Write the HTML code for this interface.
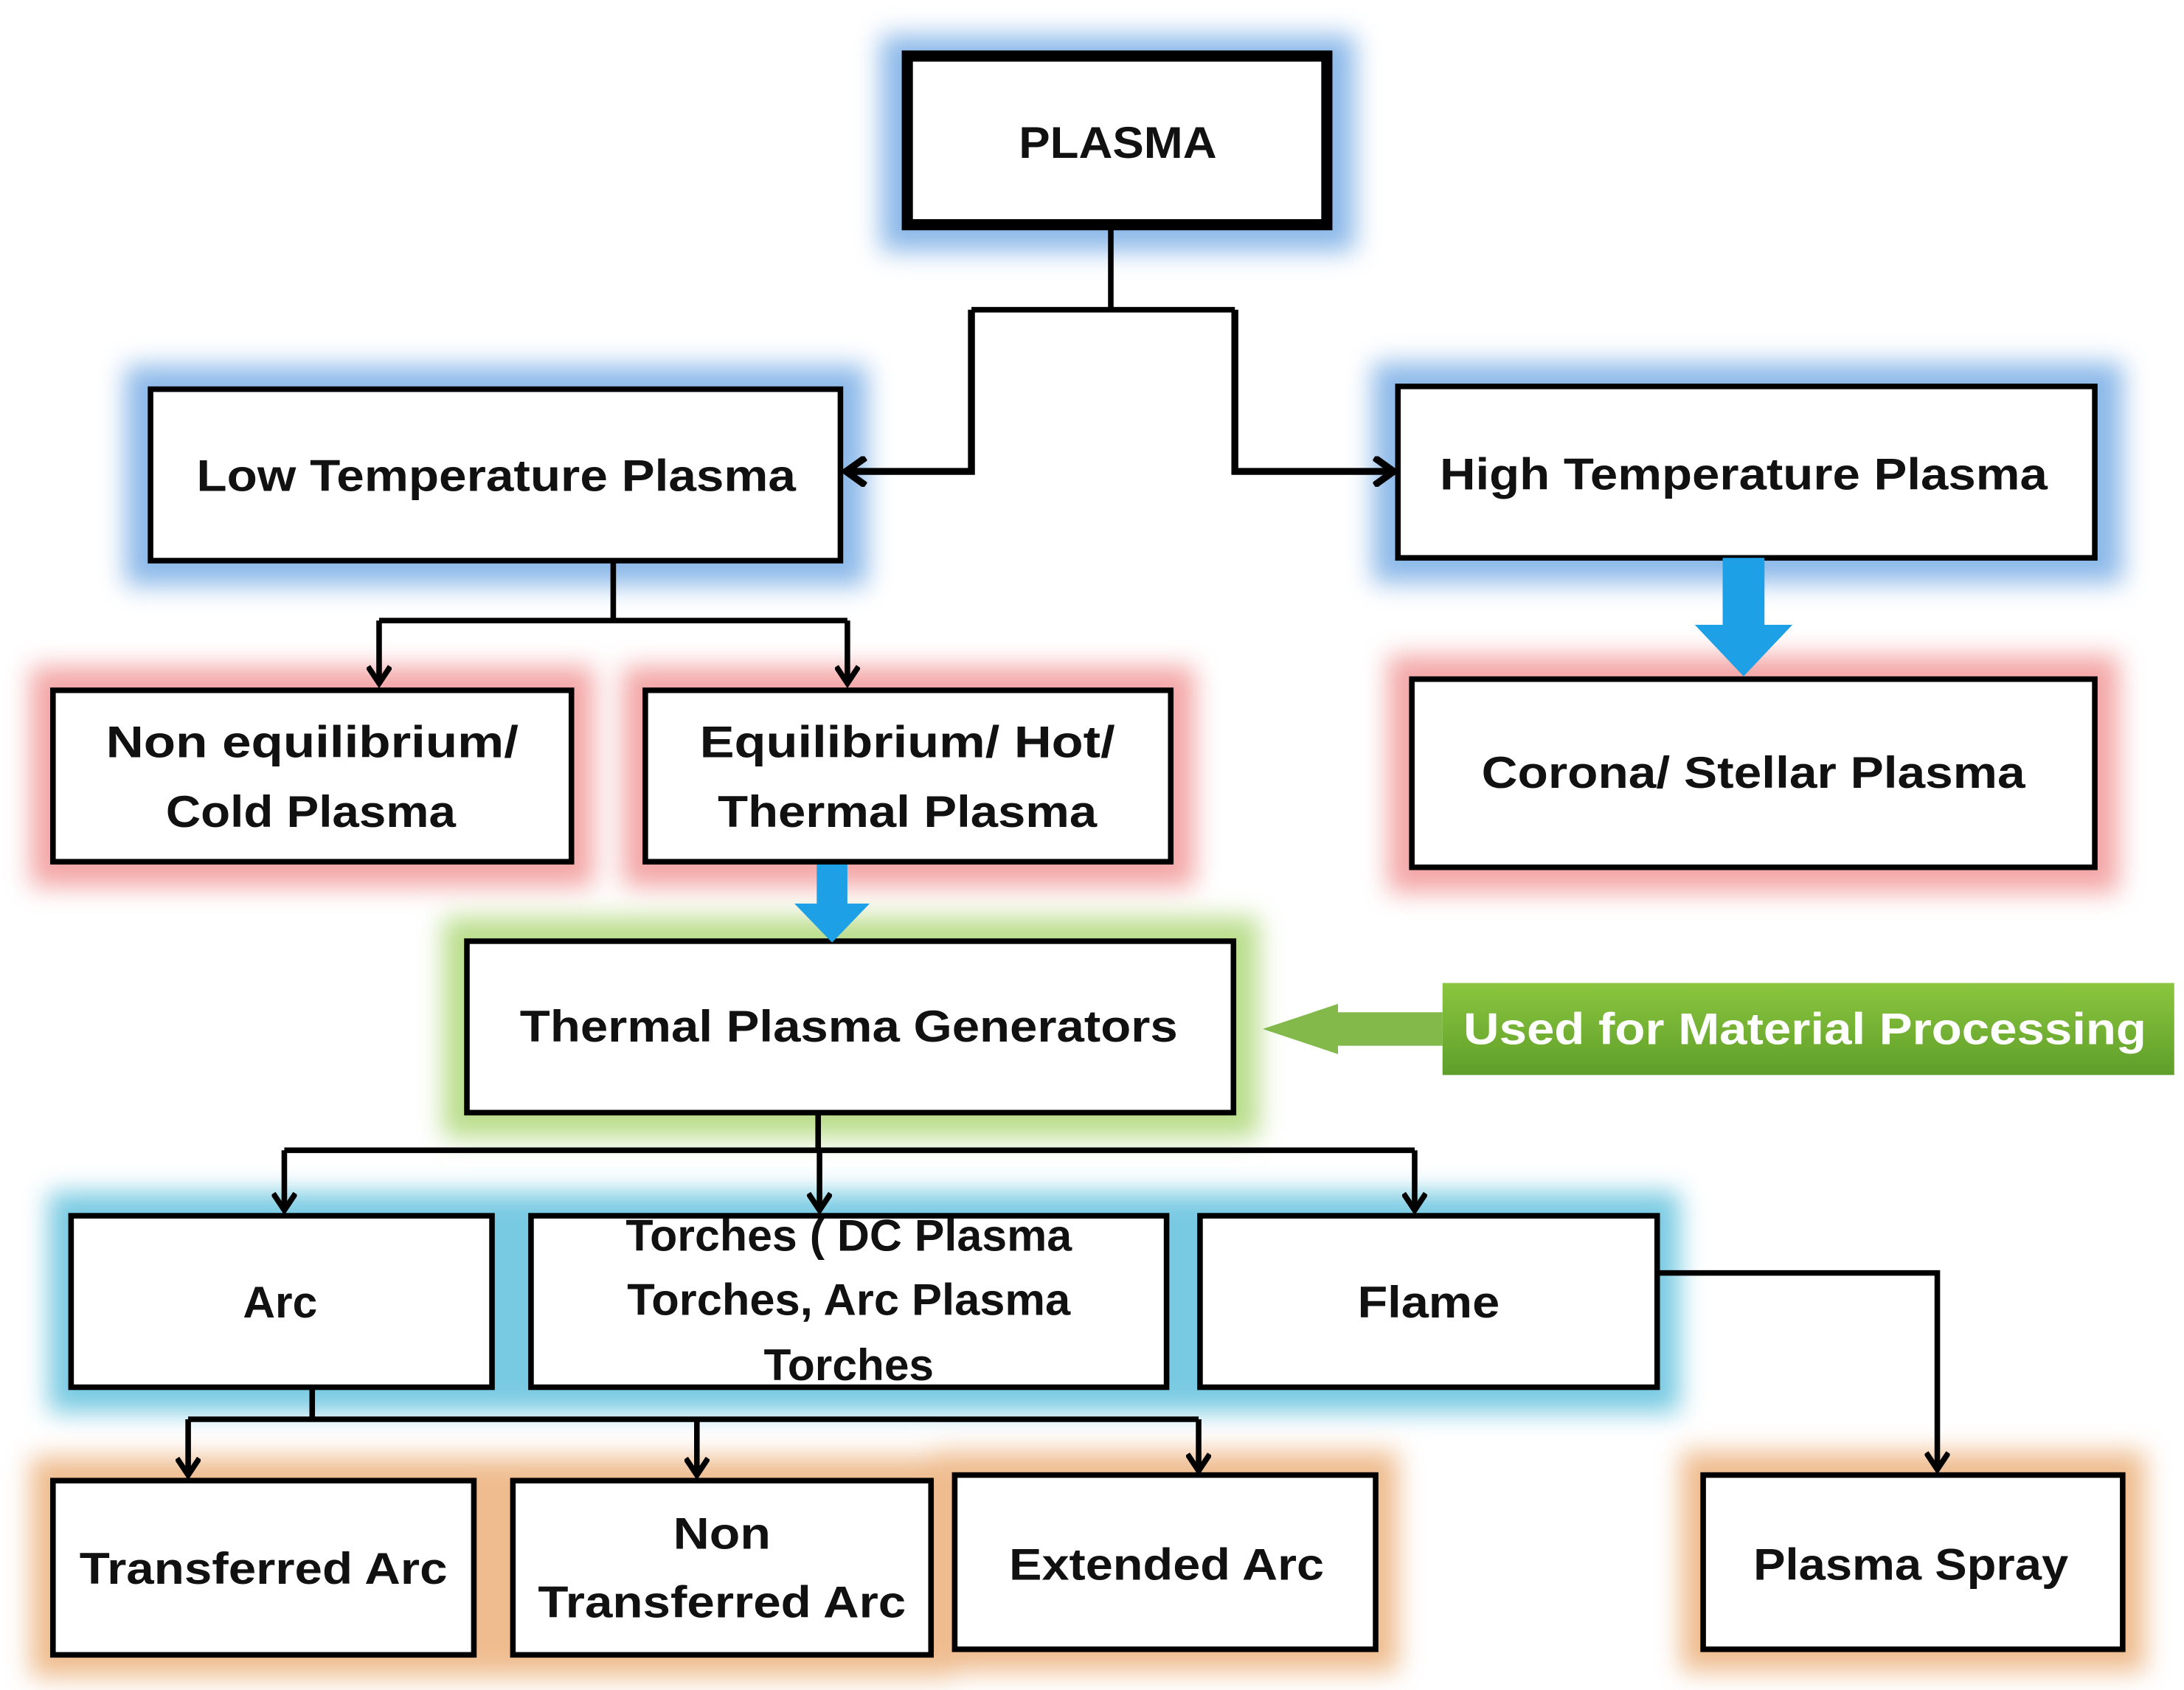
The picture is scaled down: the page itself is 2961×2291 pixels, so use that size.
<!DOCTYPE html>
<html><head><meta charset="utf-8"><style>
html,body{margin:0;padding:0;background:#fff;}
svg{display:block;}
text{font-family:"Liberation Sans",sans-serif;font-weight:bold;fill:#111;}
</style></head><body>
<svg width="2961" height="2291" viewBox="0 0 1567 1212" xmlns="http://www.w3.org/2000/svg">
<defs>
<filter id="g" x="-20%" y="-40%" width="140%" height="180%"><feGaussianBlur stdDeviation="9"/></filter>
<marker id="a" markerWidth="16" markerHeight="18" refX="13" refY="9" orient="auto" markerUnits="userSpaceOnUse">
<path d="M1,1 L13,9 L1,17" fill="none" stroke="#000" stroke-width="4"/></marker>
<marker id="a2" markerWidth="18" markerHeight="22" refX="15" refY="11" orient="auto" markerUnits="userSpaceOnUse">
<path d="M1,1 L15,11 L1,21" fill="none" stroke="#000" stroke-width="5"/></marker>
<linearGradient id="gr" x1="0" y1="0" x2="0" y2="1"><stop offset="0" stop-color="#8cc63f"/><stop offset="1" stop-color="#5e9e2a"/></linearGradient>
</defs>
<g filter="url(#g)" opacity="0.7">
<rect x="632" y="25" width="340" height="155" fill="#5b9be0"/>
<rect x="90" y="262" width="532" height="158" fill="#5b9be0"/>
<rect x="985" y="260" width="538" height="158" fill="#5b9be0"/>
<rect x="22" y="478" width="404" height="158" fill="#ef8080"/>
<rect x="447" y="478" width="410" height="158" fill="#ef8080"/>
<rect x="996" y="470" width="524" height="170" fill="#ef8080"/>
<rect x="318" y="658" width="585" height="158" fill="#9ccf5a"/>
<rect x="35" y="855" width="1170" height="158" fill="#3fb4d6"/>
<rect x="22" y="1045" width="336" height="158" fill="#e8a060"/>
<rect x="352" y="1045" width="332" height="158" fill="#e8a060"/>
<rect x="669" y="1041" width="334" height="158" fill="#e8a060"/>
<rect x="1206" y="1041" width="333" height="158" fill="#e8a060"/>
</g>
<g fill="#fff" stroke="#000">
<rect x="651" y="40" width="301" height="121" stroke-width="8"/>
<rect x="108" y="279" width="495" height="123" stroke-width="4"/>
<rect x="1003" y="277" width="500" height="123" stroke-width="4"/>
<rect x="38" y="495" width="372" height="123" stroke-width="4"/>
<rect x="463" y="495" width="377" height="123" stroke-width="4"/>
<rect x="1013" y="487" width="490" height="135" stroke-width="4"/>
<rect x="335" y="675" width="550" height="123" stroke-width="4"/>
<rect x="51" y="872" width="302" height="123" stroke-width="4"/>
<rect x="381" y="872" width="456" height="123" stroke-width="4"/>
<rect x="861" y="872" width="328" height="123" stroke-width="4"/>
<rect x="38" y="1062" width="302" height="125" stroke-width="4"/>
<rect x="368" y="1062" width="300" height="125" stroke-width="4"/>
<rect x="685" y="1058" width="302" height="125" stroke-width="4"/>
<rect x="1222" y="1058" width="301" height="125" stroke-width="4"/>
</g>
<g fill="none" stroke="#000" stroke-width="4">
<path d="M797,162 V222 M697,222 H886"/>
<path d="M697,222 V338 H607" stroke-width="5" marker-end="url(#a2)"/>
<path d="M886,222 V338 H1000" stroke-width="5" marker-end="url(#a2)"/>
<path d="M440,402 V445 M272,445 H608"/>
<path d="M272,445 V490" marker-end="url(#a)"/>
<path d="M608,445 V490" marker-end="url(#a)"/>
<path d="M587,798 V825 M204,825 H1015"/>
<path d="M204,825 V868" marker-end="url(#a)"/>
<path d="M588,825 V868" marker-end="url(#a)"/>
<path d="M1015,825 V868" marker-end="url(#a)"/>
<path d="M224,995 V1018 M135,1018 H860"/>
<path d="M135,1018 V1058" marker-end="url(#a)"/>
<path d="M500,1018 V1058" marker-end="url(#a)"/>
<path d="M860,1018 V1055" marker-end="url(#a)"/>
<path d="M1189,913 H1390 V1054" marker-end="url(#a)"/>
</g>
<path d="M1236,400 H1266 V448 H1286 L1251,485 L1216,448 H1236 Z" fill="#1ea0e6"/>
<path d="M586,620 H608 V648 H624 L597,676 L570,648 H586 Z" fill="#1ea0e6"/>
<path d="M1035,726 H960 V720 L906,738 L960,756 V750 H1035 Z" fill="#74b136" opacity="0.9"/>
<rect x="1035" y="705" width="525" height="66" fill="url(#gr)"/>
<text x="1050" y="749" font-size="32" textLength="490" lengthAdjust="spacingAndGlyphs" style="fill:#fff">Used for Material Processing</text>
<g font-size="32" text-anchor="middle">
<text x="802" y="113" textLength="142" lengthAdjust="spacingAndGlyphs">PLASMA</text>
<text x="356" y="352" textLength="430" lengthAdjust="spacingAndGlyphs">Low Temperature Plasma</text>
<text x="1251" y="351" textLength="436" lengthAdjust="spacingAndGlyphs">High Temperature Plasma</text>
<text x="224" y="543" textLength="296" lengthAdjust="spacingAndGlyphs">Non equilibrium/</text>
<text x="223" y="593" textLength="208" lengthAdjust="spacingAndGlyphs">Cold Plasma</text>
<text x="651" y="543" textLength="298" lengthAdjust="spacingAndGlyphs">Equilibrium/ Hot/</text>
<text x="651" y="593" textLength="272" lengthAdjust="spacingAndGlyphs">Thermal Plasma</text>
<text x="1258" y="565" textLength="390" lengthAdjust="spacingAndGlyphs">Corona/ Stellar Plasma</text>
<text x="609" y="747" textLength="472" lengthAdjust="spacingAndGlyphs">Thermal Plasma Generators</text>
<text x="201" y="945">Arc</text>
<text x="609" y="897" textLength="320" lengthAdjust="spacingAndGlyphs">Torches ( DC Plasma</text>
<text x="609" y="943" textLength="318" lengthAdjust="spacingAndGlyphs">Torches, Arc Plasma</text>
<text x="609" y="990" textLength="122" lengthAdjust="spacingAndGlyphs">Torches</text>
<text x="1025" y="945" textLength="102" lengthAdjust="spacingAndGlyphs">Flame</text>
<text x="189" y="1136" textLength="264" lengthAdjust="spacingAndGlyphs">Transferred Arc</text>
<text x="518" y="1111" textLength="70" lengthAdjust="spacingAndGlyphs">Non</text>
<text x="518" y="1160" textLength="264" lengthAdjust="spacingAndGlyphs">Transferred Arc</text>
<text x="837" y="1133" textLength="226" lengthAdjust="spacingAndGlyphs">Extended Arc</text>
<text x="1371" y="1133" textLength="226" lengthAdjust="spacingAndGlyphs">Plasma Spray</text>
</g>
</svg>
</body></html>
